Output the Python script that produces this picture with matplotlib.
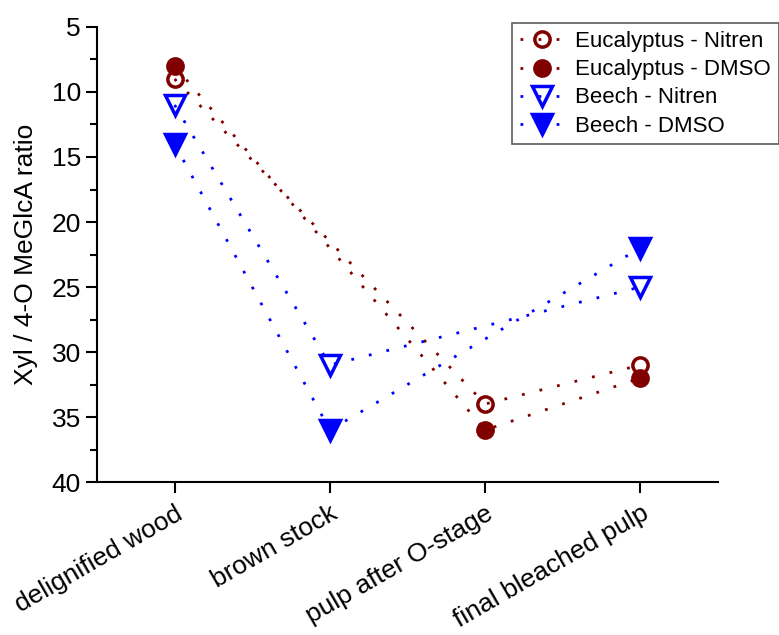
import matplotlib
matplotlib.use("Agg")
import matplotlib.pyplot as plt
import numpy as np
from matplotlib.ticker import MultipleLocator

plt.rcParams['font.family'] = ['Liberation Sans', 'DejaVu Sans']

# data
stages = ['delignified wood', 'brown stock', 'pulp after O-stage', 'final bleached pulp']
euc_nitren = [9, np.nan, 34, 31]
euc_dmso = [8, np.nan, 36, 32]
beech_nitren = [11, 31, np.nan, 25]
beech_dmso = [14, 36, np.nan, 22]

series = [
    ('Eucalyptus - Nitren', euc_nitren, '#800000', 'o', 'none'),
    ('Eucalyptus - DMSO', euc_dmso, '#800000', 'o', '#800000'),
    ('Beech - Nitren', beech_nitren, '#0000ff', 'v', 'none'),
    ('Beech - DMSO', beech_dmso, '#0000ff', 'v', '#0000ff'),
]

fig = plt.figure(figsize=(7.79, 6.35), dpi=100)
ax = fig.add_axes([0.1245, 0.2409, 0.7972, 0.7166])

for name, vals, col, mk, fc in series:
    y = np.array(vals, dtype=float)
    x = np.arange(len(y))
    ok = ~np.isnan(y)
    ms = 11 if mk == 'o' else 14
    ax.plot(x[ok], y[ok], linestyle=(0, (1, 5.5)), lw=2, color=col, marker=mk,
            markersize=ms, markerfacecolor=fc, markeredgecolor=col,
            markeredgewidth=2.5, label=name)

ax.set_xlim(-0.5, 3.5)
ax.set_ylim(40, 5)
ax.yaxis.set_major_locator(MultipleLocator(5))
ax.yaxis.set_minor_locator(MultipleLocator(2.5))
ax.set_xticks(range(len(stages)))
ax.set_xticklabels(stages, rotation=30, ha='right', rotation_mode='anchor')
ax.set_ylabel('Xyl / 4-O MeGlcA ratio', fontsize=19, labelpad=10)

ax.spines['top'].set_visible(False)
ax.spines['right'].set_visible(False)
for s in ['left', 'bottom']:
    ax.spines[s].set_linewidth(1.5)
ax.tick_params(axis='both', which='major', direction='out', length=8, width=1.5, labelsize=19)
ax.tick_params(axis='y', which='minor', direction='out', length=5, width=1.5)
ax.tick_params(axis='x', pad=6)

leg = ax.legend(loc='upper left', bbox_to_anchor=(0.657, 0.963), bbox_transform=fig.transFigure,
                fontsize=16, frameon=True, fancybox=False, borderpad=0.35,
                labelspacing=0.32, handlelength=2.0, handletextpad=0.5, borderaxespad=0)
leg.get_frame().set_edgecolor('#333333')
leg.get_frame().set_linewidth(1.2)

fig.savefig('out.png', dpi=100)
